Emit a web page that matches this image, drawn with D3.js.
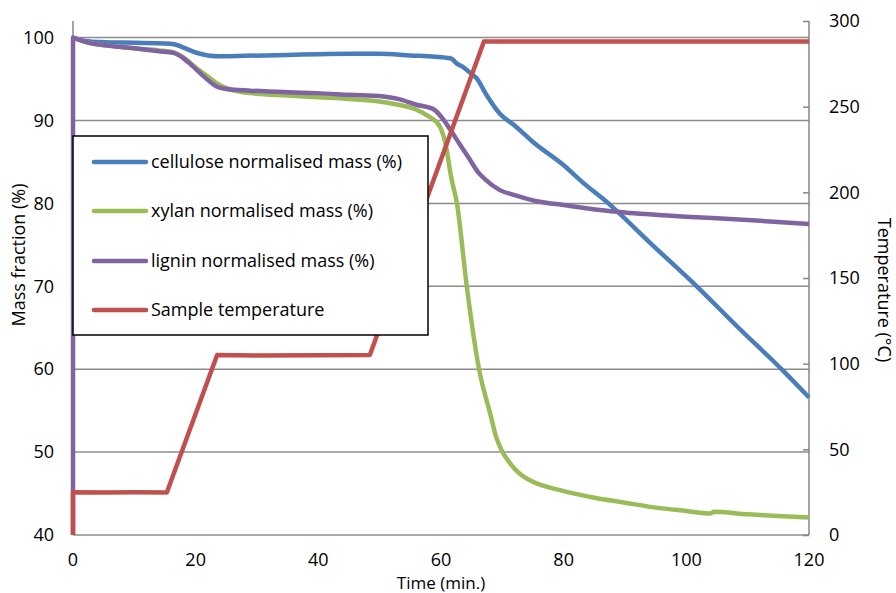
<!DOCTYPE html>
<html>
<head>
<meta charset="utf-8">
<script src="https://cdn.jsdelivr.net/npm/d3@7"></script>
<style>
  body { margin: 0; background: #fff; }
  svg text { font-family: "Open Sans", Lato, sans-serif; fill: #000; }
</style>
</head>
<body>
<svg id="chart" width="896" height="593"></svg>
<script>
// [time (min), value] pairs
const cellulose = [[0,100],[2,99.6],[5,99.45],[10,99.38],[15,99.3],[16.5,99.2],[18,98.8],[20,98.2],[22,97.85],[24,97.75],[28,97.8],[35,97.9],[40,98.0],[45,98.05],[50,98.05],[55,97.85],[59,97.7],[61.5,97.5],[62,97.3],[62.5,96.9],[63.5,96.5],[65,95.6],[65.8,95.1],[67.4,93.1],[69.6,90.8],[72,89.4],[75,87.4],[80,84.6],[83,82.6],[87.3,80],[94,75.3],[101.7,70],[108.5,65],[115.8,59.8],[120,56.6]];
const xylan = [[0,100],[3,99.3],[6,99],[10,98.7],[14,98.45],[16,98.3],[18,97.6],[20,96.4],[22,95.3],[23.4,94.5],[25,93.9],[28.9,93.3],[35,93.0],[40,92.8],[45,92.6],[50,92.3],[53,91.9],[56,91.3],[58,90.5],[59.8,89.3],[60.7,87.3],[61.7,83],[62.6,80],[64.2,70],[66.2,60],[68,54.7],[69,51.8],[69.9,50.2],[71,48.9],[72,48],[73,47.3],[74.5,46.6],[80,45.3],[85,44.5],[90,43.9],[95,43.3],[100,42.9],[104,42.6],[104.5,42.8],[110,42.5],[115,42.3],[120,42.1]];
const lignin = [[0,40],[0,100],[3,99.3],[6,99],[10,98.7],[14,98.35],[16.4,98.15],[18,97.5],[19.6,96.5],[21.5,95.2],[23.4,94.1],[25,93.8],[28.9,93.6],[35,93.4],[39.7,93.3],[45,93.1],[50.6,92.9],[53,92.6],[56,91.9],[58.7,91.4],[60.4,90.1],[61.5,88.9],[63,87.2],[64.7,85.3],[66,83.8],[67.2,82.9],[69.6,81.6],[72,81],[76.1,80.2],[80,79.8],[85.9,79.2],[90,78.9],[100,78.4],[110,78],[120,77.5]];
const temperature = [[0,0],[0,25],[5,24.8],[10,24.9],[15.3,24.8],[23.5,105],[30,104.8],[40,104.9],[48.4,105],[67,288],[80,288],[100,288],[120,288]];

const xTicks = [0, 20, 40, 60, 80, 100, 120];
const massTicks = [40, 50, 60, 70, 80, 90, 100];
const tempTicks = [0, 50, 100, 150, 200, 250, 300];

const seriesNames = ["cellulose normalised mass (%)", "xylan normalised mass (%)", "lignin normalised mass (%)", "Sample temperature"];
const seriesColors = ["#4a7ebb", "#9bbb59", "#8064a2", "#c0504d"];

const svg = d3.select("#chart");
const plotLeft = 73, plotRight = 809, plotTop = 21, plotBottom = 535;

const x = d3.scaleLinear().domain([0, 120]).range([plotLeft, plotRight]);
const yMass = d3.scaleLinear().domain([40, 102]).range([plotBottom, plotTop]);
const yTemp = d3.scaleLinear().domain([0, 300]).range([plotBottom, plotTop]);

// horizontal gridlines on the mass axis
svg.append("g")
    .selectAll("line")
    .data(massTicks)
    .join("line")
    .attr("x1", plotLeft)
    .attr("x2", plotRight)
    .attr("y1", d => yMass(d))
    .attr("y2", d => yMass(d))
    .attr("stroke", "#8c8c8c")
    .attr("stroke-width", 1.5);

// axis lines
svg.append("line")
    .attr("x1", plotLeft).attr("x2", plotLeft)
    .attr("y1", plotTop).attr("y2", plotBottom)
    .attr("stroke", "#868686").attr("stroke-width", 1.5);
svg.append("line")
    .attr("x1", plotRight).attr("x2", plotRight)
    .attr("y1", plotTop).attr("y2", plotBottom)
    .attr("stroke", "#868686").attr("stroke-width", 1.5);

// right axis with ticks pointing into the plot
const rightAxis = svg.append("g")
    .attr("transform", `translate(${plotRight},0)`)
    .call(d3.axisLeft(yTemp).tickValues(tempTicks).tickSize(6).tickFormat(""));
rightAxis.select(".domain").remove();
rightAxis.selectAll("line").attr("stroke", "#868686").attr("stroke-width", 1.5);

svg.append("g")
    .selectAll("text")
    .data(tempTicks)
    .join("text")
    .attr("x", 829)
    .attr("y", d => yTemp(d))
    .attr("dy", "0.35em")
    .attr("font-size", "18px")
    .text(d => d);

svg.append("g")
    .selectAll("text")
    .data(massTicks)
    .join("text")
    .attr("x", 54)
    .attr("y", d => yMass(d))
    .attr("dy", "0.35em")
    .attr("text-anchor", "end")
    .attr("font-size", "18px")
    .text(d => d);

svg.append("g")
    .selectAll("text")
    .data(xTicks)
    .join("text")
    .attr("x", d => x(d))
    .attr("y", 566)
    .attr("text-anchor", "middle")
    .attr("font-size", "18px")
    .text(d => d);

// axis titles
svg.append("text")
    .attr("x", 441)
    .attr("y", 589)
    .attr("text-anchor", "middle")
    .attr("font-size", "17px")
    .text("Time (min.)");

svg.append("text")
    .attr("transform", "translate(25,255) rotate(-90)")
    .attr("text-anchor", "middle")
    .attr("font-size", "18px")
    .text("Mass fraction (%)");

svg.append("text")
    .attr("transform", "translate(878,290) rotate(90)")
    .attr("text-anchor", "middle")
    .attr("font-size", "18px")
    .text("Temperature (°C)");

// series
const massLine = d3.line()
    .x(d => x(d[0]))
    .y(d => yMass(d[1]))
    .curve(d3.curveMonotoneX);
const massStraight = d3.line().x(d => x(d[0])).y(d => yMass(d[1]));
const tempLine = d3.line().x(d => x(d[0])).y(d => yTemp(d[1]));

// lignin starts with a vertical jump at t = 0, kept straight
const paths = [
    massLine(cellulose),
    massLine(xylan),
    massStraight(lignin.slice(0, 2)) + massLine(lignin.slice(1)).replace(/^M/, "L"),
    tempLine(temperature)
];

paths.forEach((p, i) => {
    svg.append("path")
        .attr("d", p)
        .attr("fill", "none")
        .attr("stroke", seriesColors[i])
        .attr("stroke-width", 4.5)
        .attr("stroke-linejoin", "round");
});

// legend
const legend = svg.append("g");
legend.append("rect")
    .attr("x", 73)
    .attr("y", 136)
    .attr("width", 355)
    .attr("height", 199)
    .attr("fill", "#fff")
    .attr("stroke", "#000")
    .attr("stroke-width", 1.5);

const legendY = [162, 211, 261, 310];
seriesNames.forEach((name, i) => {
    legend.append("line")
        .attr("x1", 94)
        .attr("x2", 146)
        .attr("y1", legendY[i])
        .attr("y2", legendY[i])
        .attr("stroke", seriesColors[i])
        .attr("stroke-width", 4.5)
        .attr("stroke-linecap", "round");
    legend.append("text")
        .attr("x", 151)
        .attr("y", legendY[i])
        .attr("dy", "0.35em")
        .attr("font-size", "18px")
        .text(name);
});
</script>
</body>
</html>
